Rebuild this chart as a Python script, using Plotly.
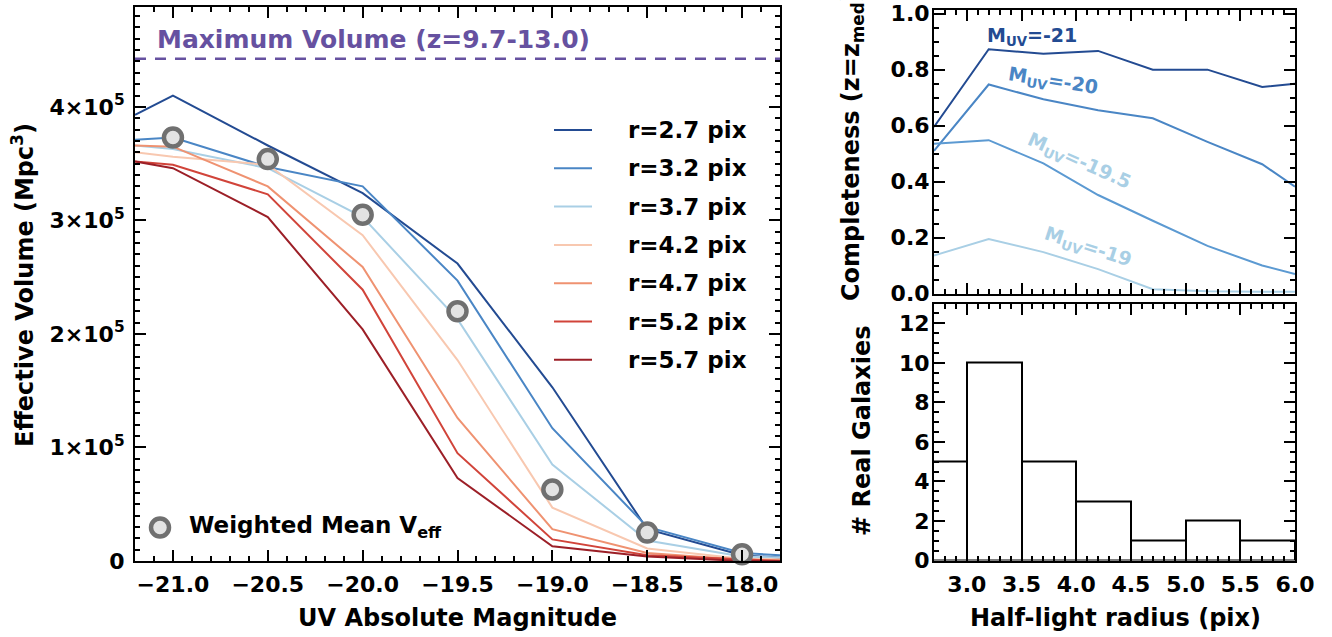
import plotly.graph_objects as go

# ---------------- data ----------------
muv = [-21.2, -21.0, -20.5, -20.0, -19.5, -19.0, -18.5, -18.0, -17.8]
radius_labels = ["r=2.7 pix", "r=3.2 pix", "r=3.7 pix", "r=4.2 pix", "r=4.7 pix", "r=5.2 pix", "r=5.7 pix"]
veff_r27 = [3.93, 4.10, 3.66, 3.24, 2.62, 1.53, 0.28, 0.05, 0.03]
veff_r32 = [3.71, 3.73, 3.47, 3.30, 2.47, 1.17, 0.30, 0.07, 0.05]
veff_r37 = [3.66, 3.63, 3.46, 3.03, 2.13, 0.85, 0.18, 0.04, 0.03]
veff_r42 = [3.60, 3.56, 3.49, 2.87, 1.77, 0.47, 0.11, 0.02, 0.01]
veff_r47 = [3.66, 3.65, 3.30, 2.59, 1.26, 0.28, 0.07, 0.01, 0.01]
veff_r52 = [3.52, 3.49, 3.23, 2.39, 0.95, 0.19, 0.05, 0.01, 0.00]
veff_r57 = [3.52, 3.46, 3.03, 2.04, 0.73, 0.13, 0.04, 0.00, 0.00]
mean_muv = [-21.0, -20.5, -20.0, -19.5, -19.0, -18.5, -18.0]
mean_veff = [3.73, 3.54, 3.05, 2.20, 0.63, 0.25, 0.06]
max_volume = 4.425
veff_unit = 1e5

rad = [2.7, 3.2, 3.7, 4.2, 4.7, 5.2, 5.7, 6.0]
comp_m21 = [0.595, 0.873, 0.857, 0.867, 0.800, 0.800, 0.738, 0.750]
comp_m20 = [0.510, 0.747, 0.694, 0.655, 0.626, 0.542, 0.462, 0.382]
comp_m195 = [0.535, 0.548, 0.465, 0.352, 0.260, 0.170, 0.100, 0.070]
comp_m19 = [0.136, 0.195, 0.148, 0.087, 0.015, 0.008, 0.006, 0.006]
comp_labels = ["M<sub>UV</sub>=-21", "M<sub>UV</sub>=-20", "M<sub>UV</sub>=-19.5", "M<sub>UV</sub>=-19"]

hist_centers = [2.75, 3.25, 3.75, 4.25, 4.75, 5.25, 5.75]
hist_counts = [5, 10, 5, 3, 1, 2, 1]

colors = ["#234b92", "#4a86c5", "#a9cfe5", "#f8c8b0", "#ef9271", "#d1443a", "#9c1f27"]
comp_colors = ["#234b92", "#4a86c5", "#5c9ad2", "#a9cfe5"]
label_colors = ["#234b92", "#4a86c5", "#a9cfe5", "#a9cfe5"]
purple = "#6651a0"

FONT = "DejaVu Sans"

fig = go.Figure()

series = [veff_r27, veff_r32, veff_r37, veff_r42, veff_r47, veff_r52, veff_r57]
for name, vals, c in zip(radius_labels, series, colors):
    fig.add_trace(go.Scatter(x=muv, y=[v * veff_unit for v in vals], mode="lines",
                             line=dict(color=c, width=2), name=name,
                             xaxis="x", yaxis="y", showlegend=False))

fig.add_trace(go.Scatter(x=[muv[0], muv[-1]], y=[max_volume * veff_unit] * 2, mode="lines",
                         line=dict(color=purple, width=2.5, dash="11px,9px"),
                         xaxis="x", yaxis="y", showlegend=False))

fig.add_trace(go.Scatter(x=mean_muv, y=[v * veff_unit for v in mean_veff], mode="markers",
                         marker=dict(size=18, color="#e3e3e3", line=dict(color="#707070", width=4.5)),
                         xaxis="x", yaxis="y", showlegend=False, cliponaxis=False))

for vals, c in zip([comp_m21, comp_m20, comp_m195, comp_m19], comp_colors):
    fig.add_trace(go.Scatter(x=rad, y=vals, mode="lines", line=dict(color=c, width=2),
                             xaxis="x2", yaxis="y2", showlegend=False))

fig.add_trace(go.Bar(x=hist_centers, y=hist_counts, width=0.5,
                     marker=dict(color="white", line=dict(color="black", width=2)),
                     xaxis="x3", yaxis="y3", showlegend=False))

tickfont = dict(family=FONT, size=22, color="black", weight="bold")

def axstyle(**kw):
    d = dict(showline=True, linecolor="black", linewidth=2, mirror="ticks",
             ticks="inside", ticklen=11, tickwidth=2, tickcolor="black",
             showgrid=False, zeroline=False, tickfont=tickfont, autorange=False,
             automargin=False)
    d.update(kw)
    return d

def minor(dt, t0):
    return dict(ticks="inside", ticklen=5, dtick=dt, tick0=t0, tickwidth=1.5, tickcolor="black", showgrid=False)

left_dom_x = [135 / 1332, 780 / 1332]
left_dom_y = [1 - 561 / 637, 1 - 7 / 637]
right_dom_x = [934 / 1332, 1295 / 1332]
top_dom_y = [1 - 293.5 / 637, 1 - 9.5 / 637]
bot_dom_y = [1 - 560.5 / 637, 1 - 303.5 / 637]

ytick_vals = [0, 1e5, 2e5, 3e5, 4e5]
ytick_text = ["0"] + [f"{int(v/1e5)}×10<sup>5</sup>" for v in ytick_vals[1:]]

fig.update_layout(
    width=1332, height=637,
    margin=dict(l=0, r=0, t=0, b=0, autoexpand=False),
    paper_bgcolor="white", plot_bgcolor="white",
    bargap=0,
    xaxis=axstyle(domain=left_dom_x, range=[-21.2, -17.8], anchor="y",
                  tickvals=[-21.0, -20.5, -20.0, -19.5, -19.0, -18.5, -18.0], tickformat=".1f",
                  ticklabelstandoff=3, minor=minor(0.1, -21)),
    yaxis=axstyle(domain=left_dom_y, range=[0, 4.88e5], anchor="x",
                  tickvals=ytick_vals, ticktext=ytick_text, ticklabelstandoff=4,
                  minor=minor(0.1e5, 0)),
    xaxis2=axstyle(domain=right_dom_x, range=[2.7, 6.0], anchor="y2", showticklabels=False,
                   dtick=0.5, tick0=3.0, minor=minor(0.1, 3.0)),
    yaxis2=axstyle(domain=top_dom_y, range=[0, 1.015], anchor="x2", dtick=0.2, tick0=0, tickformat=".1f",
                   ticklabelstandoff=-2, minor=minor(0.05, 0)),
    xaxis3=axstyle(domain=right_dom_x, range=[2.7, 6.0], anchor="y3", dtick=0.5, tick0=3.0, tickformat=".1f",
                   ticklabelstandoff=3, minor=minor(0.1, 3.0)),
    yaxis3=axstyle(domain=bot_dom_y, range=[0, 13], anchor="x3", dtick=2, tick0=0,
                   ticklabelstandoff=-2, minor=minor(0.5, 0)),
)

def px(x):
    return x / 1332

def py(y):
    return 1 - y / 637

ann = []
def text(x, y, s, size=22, color="black", xanchor="center", angle=0, yanchor="middle"):
    ann.append(dict(x=px(x), y=py(y), xref="paper", yref="paper", text=s, showarrow=False,
                    xanchor=xanchor, yanchor=yanchor, textangle=angle,
                    font=dict(family=FONT, size=size, color=color, weight="bold")))

# axis titles
text(457, 618, "UV Absolute Magnitude", size=24)
text(23, 285, "Effective Volume (Mpc<sup>3</sup>)", size=24, angle=-90)
text(1115, 618, "Half-light radius (pix)", size=24)
text(862, 431, "# Real Galaxies", size=24, angle=-90)
text(853, 146, "Completeness (z=z<sub>med</sub>)", size=24, angle=-90)

# maximum volume label
text(155, 40, "Maximum Volume (z=9.7-13.0)", size=25, color=purple, xanchor="left")

# legend
shapes = []
leg_y0 = 130
for i, (name, c) in enumerate(zip(radius_labels, colors)):
    y = leg_y0 + i * 38.3
    shapes.append(dict(type="line", xref="paper", yref="paper", x0=px(554), x1=px(592),
                       y0=py(y), y1=py(y), line=dict(color=c, width=2)))
    text(626, y, name, size=23, xanchor="left")

text(187, 527, "Weighted Mean V<sub>eff</sub>", size=23, xanchor="left")
shapes.append(dict(type="circle", xref="paper", yref="paper",
                   x0=px(151), x1=px(169), y0=py(536.5), y1=py(518.5),
                   fillcolor="#e3e3e3", line=dict(color="#707070", width=4.5)))

# completeness labels
text(1032, 36, comp_labels[0], size=19, color=label_colors[0])
text(1053, 81, comp_labels[1], size=19, color=label_colors[1], angle=9)
text(1079, 161, comp_labels[2], size=19, color=label_colors[2], angle=24)
text(1088, 247, comp_labels[3], size=19, color=label_colors[3], angle=18)

fig.update_layout(annotations=ann, shapes=shapes)

fig.write_html("out.html", config={"displayModeBar": False},
               post_script="document.body.style.margin='0';")
